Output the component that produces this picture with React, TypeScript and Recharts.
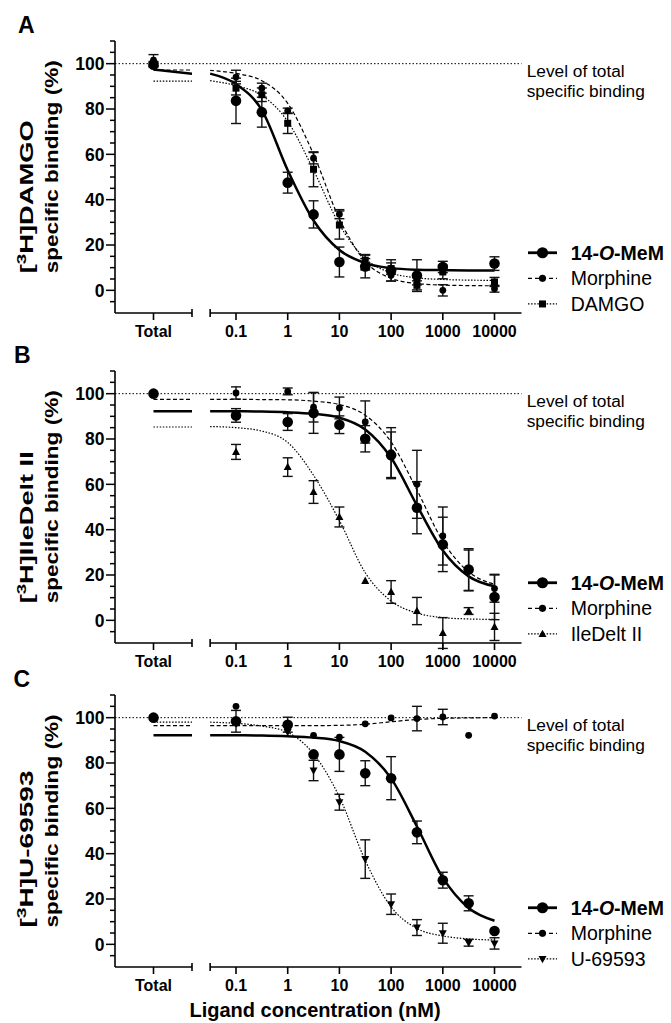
import React from 'react';
import { ComposedChart, Line, Scatter, XAxis, YAxis, ReferenceLine, ErrorBar, Legend } from 'recharts';

const FONT = '"Liberation Sans", Arial, Helvetica, sans-serif';

// axis ticks
const yTicks = [-5, 0, 5, 10, 15, 20, 25, 30, 35, 40, 45, 50, 55, 60, 65, 70, 75, 80, 85, 90, 95, 100, 105, 110];
const yTickLabels = [0, 20, 40, 60, 80, 100];
const concTicks = [0.1, 1, 10, 100, 1000, 10000];
const totalTickLabel = 'Total';

// concentrations (nM)
const concA = [0.1, 0.316, 1, 3.16, 10, 31.6, 100, 316, 1000, 10000];
const concBC = [0.1, 1, 3.16, 10, 31.6, 100, 316, 1000, 3160, 10000];
const fitConc = [0.0316, 0.1, 0.316, 1, 3.16, 10, 31.6, 100, 316, 1000, 3160, 10000];

// A: [3H]DAMGO
const memA = [83.6, 78.6, 47.5, 33.5, 12.5, 10.5, 8.8, 6.5, 10.3, 11.8];
const memErrA = [10, 6.6, 4.6, 6, 6.6, 5, 4.7, 7, 2.5, 3];
const morA = [94.1, 89.2, 79.2, 58.3, 33.6, 11.5, 6.6, 4.4, 0, 0.7];
const morErrA = [3, 2.2, 1.2, 2.5, 2, 2.5, 2.5, 2, 2.5, 1.5];
const damgoA = [89.2, 86.3, 73.7, 53.4, 28.8, 13.3, 9.6, 2.2, 8.1, 3.7];
const damgoErrA = [3, 3, 4.5, 7.7, 6.2, 2.5, 2.5, 2, 3, 2];
const totalA = [99.5, 101.5, 100];
const totalErrA = [1, 2.5, 1];
const memFitA = [95.6, 91, 79.5, 53, 30.8, 17.8, 12, 9.8, 9.1, 8.9, 8.8, 8.8];
const morFitA = [97, 95.7, 92.5, 82.5, 60, 31.5, 12.8, 5.3, 3, 2.3, 2.1, 2];
const damgoFitA = [92.5, 90.3, 86, 74.5, 53, 29, 14, 7.7, 5.5, 4.8, 4.5, 4.4];
const memTotFitA = [97.4, 95.6];
const morTotFitA = [97.2, 97.2];
const damgoTotFitA = [92.3, 92.3];

// B: [3H]IleDelt II
const memB = [90.4, 87.5, 91.5, 86.3, 80.1, 72.8, 49.7, 33.5, 22.4, 10.3];
const memErrB = [3, 3.7, 9, 3.9, 5.8, 10.3, 11.5, 12, 9.2, 10];
const morB = [100.3, 101, 94, 93.7, 87.5, 74, 60, 37.2, 22, 14];
const morErrB = [2.7, 1.5, 6.5, 4.8, 9.3, 11, 15, 12.8, 9, 6];
const ileB = [74.3, 67.6, 56.6, 45.6, 17.4, 12.5, 4.1, -5.6, 4.1, -2.9];
const ileErrB = [3.3, 4.1, 5, 4.4, 0, 5, 6, 6.8, 1.5, 6];
const totalB = [100, 100, 100];
const totalErrB = [0, 0, 0];
const memFitB = [92.2, 92.2, 92.1, 91.8, 91.1, 89.4, 84.2, 71.7, 50.7, 30.8, 19.4, 15];
const morFitB = [97.5, 97.5, 97.4, 97.3, 96.7, 95.2, 90.5, 78.7, 57.5, 34.9, 21.4, 15.9];
const ileFitB = [85.5, 85, 83.5, 78.5, 64, 44, 21, 8.5, 3.2, 1.2, 0.6, 0.4];
const memTotFitB = [92.2, 92.2];
const morTotFitB = [97.5, 97.5];
const ileTotFitB = [85.3, 85.3];

// C: [3H]U-69593
const memC = [98.4, 96.9, 83.8, 83.8, 75.5, 73.3, 49.4, 28.3, 18.1, 5.9];
const memErrC = [4.8, 3.3, 0, 7.5, 5.5, 9.5, 5, 3.5, 3.3, 0];
const morC = [105, 95.5, 92.2, 91.4, 97.3, 99.9, 99.6, 100.3, 92.2, 100.7];
const morErrC = [0, 0, 0, 0, 0, 0, 5.4, 3.4, 0, 0];
const uC = [97.5, 93.7, 76.7, 62.7, 37.6, 17.7, 7.4, 4.9, 0.7, 0.4];
const uErrC = [0, 0, 4.5, 3.5, 8.5, 4.5, 3.5, 4.4, 1.5, 2.5];
const totalC = [100, 100, 100];
const totalErrC = [0, 0, 0];
const memFitC = [92.2, 92.2, 92.1, 91.8, 91.2, 89.7, 85, 73.2, 52, 29.4, 16, 10.4];
const morFitC = [96.5, 96.5, 96.5, 96.5, 96.5, 96.6, 97.1, 98.2, 99.2, 99.7, 99.9, 100];
const uFitC = [98, 97.5, 96.3, 93.5, 84, 65, 37, 16.5, 7, 3.7, 2.4, 1.9];
const memTotFitC = [92.2, 92.2];
const morTotFitC = [96.5, 96.5];
const uTotFitC = [98, 98];

type Kind = 'mem' | 'mor' | 'ref';
type Shape = 'bigCircle' | 'smallCircle' | 'square' | 'triUp' | 'triDown';

interface Series {
  name: string;
  kind: Kind;
  shape: Shape;
  conc: number[];
  vals: number[];
  errs: number[];
  total: number;
  totalErr: number;
  fit: number[];
  totalFit: number[];
}

interface PanelDef {
  letter: string;
  letterX: number;
  ligand: string;
  line1Len: number;
  top: number;
  series: Series[];
}

const mk = (name: string, kind: Kind, shape: Shape, conc: number[], vals: number[], errs: number[],
  total: number, totalErr: number, fit: number[], totalFit: number[]): Series =>
  ({ name, kind, shape, conc, vals, errs, total, totalErr, fit, totalFit });

const panels: PanelDef[] = [
  {
    letter: 'A', letterX: 18, ligand: 'DAMGO', line1Len: 153, top: 30.6,
    series: [
      mk('14-O-MeM', 'mem', 'bigCircle', concA, memA, memErrA, totalA[0], totalErrA[0], memFitA, memTotFitA),
      mk('Morphine', 'mor', 'smallCircle', concA, morA, morErrA, totalA[1], totalErrA[1], morFitA, morTotFitA),
      mk('DAMGO', 'ref', 'square', concA, damgoA, damgoErrA, totalA[2], totalErrA[2], damgoFitA, damgoTotFitA),
    ],
  },
  {
    letter: 'B', letterX: 14, ligand: 'IleDelt II', line1Len: 152, top: 360.6,
    series: [
      mk('14-O-MeM', 'mem', 'bigCircle', concBC, memB, memErrB, totalB[0], totalErrB[0], memFitB, memTotFitB),
      mk('Morphine', 'mor', 'smallCircle', concBC, morB, morErrB, totalB[1], totalErrB[1], morFitB, morTotFitB),
      mk('IleDelt II', 'ref', 'triUp', concBC, ileB, ileErrB, totalB[2], totalErrB[2], ileFitB, ileTotFitB),
    ],
  },
  {
    letter: 'C', letterX: 13.5, ligand: 'U-69593', line1Len: 157, top: 684.8,
    series: [
      mk('14-O-MeM', 'mem', 'bigCircle', concBC, memC, memErrC, totalC[0], totalErrC[0], memFitC, memTotFitC),
      mk('Morphine', 'mor', 'smallCircle', concBC, morC, morErrC, totalC[1], totalErrC[1], morFitC, morTotFitC),
      mk('U-69593', 'ref', 'triDown', concBC, uC, uErrC, totalC[2], totalErrC[2], uFitC, uTotFitC),
    ],
  },
];

const lineStyle: Record<Kind, { strokeWidth: number; strokeDasharray?: string }> = {
  mem: { strokeWidth: 2.5 },
  mor: { strokeWidth: 1.2, strokeDasharray: '4 2.5' },
  ref: { strokeWidth: 1.2, strokeDasharray: '1.5 1.6' },
};

const Marker = ({ shape, cx, cy, big }: { shape: Shape; cx: number; cy: number; big?: boolean }) => {
  const k = big ? 1.05 : 1;
  switch (shape) {
    case 'bigCircle':
      return <circle cx={cx} cy={cy} r={5.3 * k} fill="#000" />;
    case 'smallCircle':
      return <circle cx={cx} cy={cy} r={3.4 * k} fill="#000" />;
    case 'square':
      return <rect x={cx - 3.5} y={cy - 3.5} width={7} height={7} fill="#000" />;
    case 'triUp':
      return <polygon points={`${cx},${cy - 4.3} ${cx - 4},${cy + 3} ${cx + 4},${cy + 3}`} fill="#000" />;
    default:
      return <polygon points={`${cx},${cy + 4.3} ${cx - 4},${cy - 3} ${cx + 4},${cy - 3}`} fill="#000" />;
  }
};

const YTick = (props: any) => {
  const { x, y, payload } = props;
  const major = yTickLabels.includes(payload.value);
  const len = major ? 9 : 5;
  return (
    <g>
      <line x1={x - len} x2={x} y1={y} y2={y} stroke="#000" strokeWidth={1.5} />
      {major && (
        <text x={x - len - 1.5} y={y} dy="0.36em" textAnchor="end" fontFamily={FONT}
          fontWeight={700} fontSize={17.5} fill="#000">
          {payload.value}
        </text>
      )}
    </g>
  );
};

const SeriesName = ({ name }: { name: string }) =>
  name === '14-O-MeM' ? (
    <>
      <tspan>14-</tspan>
      <tspan fontStyle="italic">O</tspan>
      <tspan>-MeM</tspan>
    </>
  ) : (
    <>{name}</>
  );

const PanelLegend = ({ series }: { series: Series[] }) => (
  <svg width={143} height={78} style={{ overflow: 'visible' }}>
    {series.map((s, i) => {
      const cy = 12.75 + i * 25.6;
      return (
        <g key={s.name}>
          <line x1={0} x2={29} y1={cy} y2={cy} stroke="#000" {...lineStyle[s.kind]}
            strokeWidth={s.kind === 'mem' ? 2.8 : 1.2} strokeDasharray={s.kind === 'mor' ? '4 3' : lineStyle[s.kind].strokeDasharray} />
          <Marker shape={s.shape} cx={14.5} cy={cy} big />
          <text x={42.7} y={cy} dy="0.36em" fontFamily={FONT} fontSize={19.5}
            fontWeight={s.kind === 'mem' ? 700 : 400} fill="#000">
            <SeriesName name={s.name} />
          </text>
        </g>
      );
    })}
  </svg>
);

const axisStroke = { stroke: '#000', strokeWidth: 1.6 };
const xTickStyle = { fill: '#000', fontSize: 16, fontWeight: 700, fontFamily: FONT };

const Panel = ({ p }: { p: PanelDef }) => {
  const order = [...p.series].reverse();
  return (
    <>
      <div style={{ position: 'absolute', left: 0, top: p.top }}>
        <ComposedChart width={200} height={322} margin={{ top: 10, right: 8, bottom: 10, left: 0 }}>
          <XAxis type="number" dataKey="x" domain={[0, 2]} ticks={[1]} allowDataOverflow height={30}
            tickFormatter={() => totalTickLabel} axisLine={axisStroke} tickLine={axisStroke}
            tickSize={7} tickMargin={6} tick={xTickStyle} />
          <YAxis type="number" domain={[-10, 110]} ticks={yTicks} interval={0} allowDataOverflow width={115}
            tick={<YTick />} tickLine={false} tickSize={0} tickMargin={0} axisLine={axisStroke} />
          <ReferenceLine y={100} stroke="#000" strokeWidth={1} strokeDasharray="1.5 2" />
          <ReferenceLine segment={[{ x: 2, y: -11.8 }, { x: 2, y: -8.2 }]} ifOverflow="visible" {...axisStroke} />
          {order.map((s) => (
            <Line key={`tf-${s.name}`} data={[{ x: 1, y: s.totalFit[0] }, { x: 2, y: s.totalFit[1] }]}
              dataKey="y" stroke="#000" {...lineStyle[s.kind]} dot={false} activeDot={false}
              legendType="none" isAnimationActive={false} />
          ))}
          {order.map((s) => (
            <Scatter key={`tp-${s.name}`} data={[{ x: 1, y: s.total, err: s.totalErr }]} dataKey="y"
              isAnimationActive={false} legendType="none"
              shape={(q: any) => <Marker shape={s.shape} cx={q.cx} cy={q.cy} />}>
              <ErrorBar dataKey="err" direction="y" width={5} stroke="#111" strokeWidth={1.4} />
            </Scatter>
          ))}
        </ComposedChart>
      </div>
      <div style={{ position: 'absolute', left: 180, top: p.top }}>
        <ComposedChart width={491} height={322} margin={{ top: 10, right: 149.5, bottom: 10, left: 12 }}>
          <XAxis type="number" dataKey="x" scale="log" domain={[0.01409, 33270]} allowDataOverflow
            ticks={concTicks} interval={0} height={30} axisLine={false} tickLine={axisStroke}
            tickSize={7} tickMargin={6} tick={xTickStyle} tickFormatter={(v: number) => String(v)} />
          <YAxis hide type="number" domain={[-10, 110]} allowDataOverflow />
          <ReferenceLine y={100} stroke="#000" strokeWidth={1} strokeDasharray="1.5 2" />
          <ReferenceLine segment={[{ x: 0.0316, y: -10 }, { x: 33270, y: -10 }]} ifOverflow="visible" {...axisStroke} />
          <ReferenceLine segment={[{ x: 0.0316, y: -11.8 }, { x: 0.0316, y: -8.2 }]} ifOverflow="visible" {...axisStroke} />
          {order.map((s) => (
            <Line key={`f-${s.name}`} data={fitConc.map((c, i) => ({ x: c, y: s.fit[i] }))} dataKey="y"
              type="monotone" stroke="#000" {...lineStyle[s.kind]} dot={false} activeDot={false}
              legendType="none" isAnimationActive={false} />
          ))}
          {order.map((s) => (
            <Scatter key={`p-${s.name}`} data={s.conc.map((c, i) => ({ x: c, y: s.vals[i], err: s.errs[i] }))}
              dataKey="y" isAnimationActive={false} legendType="none"
              shape={(q: any) => <Marker shape={s.shape} cx={q.cx} cy={q.cy} />}>
              <ErrorBar dataKey="err" direction="y" width={5} stroke="#111" strokeWidth={1.4} />
            </Scatter>
          ))}
          <Legend layout="vertical" align="center" verticalAlign="middle"
            wrapperStyle={{ left: 348, top: 209.9, width: 143, height: 78 }}
            content={() => <PanelLegend series={p.series} />} />
        </ComposedChart>
      </div>
    </>
  );
};

const Annotations = () => (
  <svg width={671} height={1023} style={{ position: 'absolute', left: 0, top: 0, pointerEvents: 'none' }}>
    {panels.map((p) => {
      const plotTop = p.top + 10;
      const start = plotTop + 232.7;
      return (
        <g key={p.letter} fontFamily={FONT} fill="#000">
          <text x={p.letterX} y={plotTop - 8} fontSize={23} fontWeight={700}>{p.letter}</text>
          <text transform={`translate(32.5 ${start}) rotate(-90)`} fontSize={19} fontWeight={700}
            textLength={p.line1Len} lengthAdjust="spacingAndGlyphs">
            <tspan>[</tspan>
            <tspan dy={-7} fontSize={13}>3</tspan>
            <tspan dy={7}>{`H]${p.ligand}`}</tspan>
          </text>
          <text transform={`translate(57.5 ${start}) rotate(-90)`} fontSize={19} fontWeight={700}
            textLength={213} lengthAdjust="spacingAndGlyphs">
            specific binding (%)
          </text>
          <text x={526.7} y={plotTop + 36.4} fontSize={17.3}>Level of total</text>
          <text x={526.7} y={plotTop + 56.4} fontSize={17.3}>specific binding</text>
        </g>
      );
    })}
    <text x={315} y={1017} textAnchor="middle" fontFamily={FONT} fontSize={20} fontWeight={700} fill="#000">
      Ligand concentration (nM)
    </text>
  </svg>
);

export default function App() {
  return (
    <div style={{ position: 'absolute', left: 0, top: 0, width: 671, height: 1023, background: '#fff', overflow: 'hidden' }}>
      {panels.map((p) => (
        <Panel key={p.letter} p={p} />
      ))}
      <Annotations />
    </div>
  );
}
